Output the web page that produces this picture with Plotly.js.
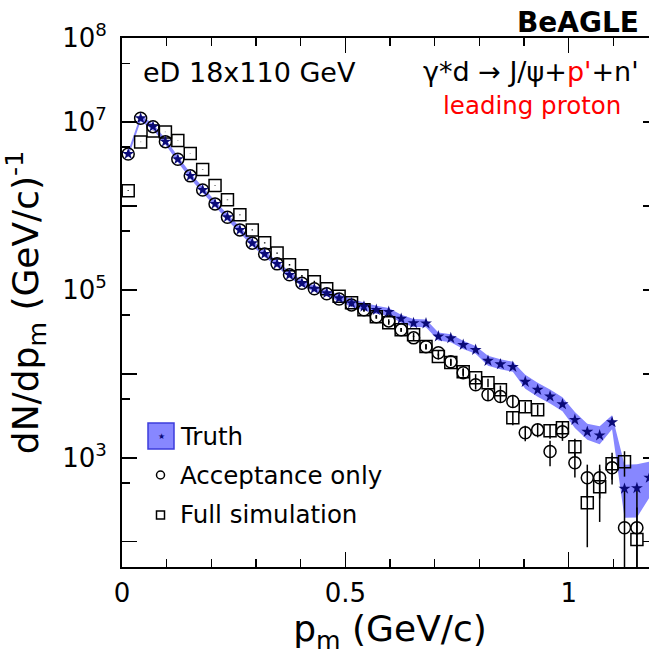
<!DOCTYPE html>
<html>
<head>
<meta charset="utf-8">
<script src="https://cdn.plot.ly/plotly-3.0.1.min.js"></script>
<style>
html,body{margin:0;padding:0;overflow:hidden;background:#ffffff;}
#chart{width:660px;height:658px;}
</style>
</head>
<body>
<div id="chart"></div>
<script>
// ---- data ----
const pm = [0.0139,0.0417,0.0694,0.0972,0.1250,0.1528,0.1806,0.2083,0.2361,0.2639,
            0.2917,0.3194,0.3472,0.3750,0.4028,0.4306,0.4583,0.4861,0.5139,0.5417,
            0.5694,0.5972,0.6250,0.6528,0.6806,0.7083,0.7361,0.7639,0.7917,0.8194,
            0.8472,0.8750,0.9028,0.9306,0.9583,0.9861,1.0139,1.0417,1.0694,1.0972,
            1.1250,1.1528,1.1806];

const truth = [4.16e6,1.107e7,8.79e6,5.83e6,3.60e6,2.28e6,1.55e6,1.057e6,7.34e5,5.18e5,
               3.60e5,2.68e5,2.04e5,1.51e5,1.20e5,1.035e5,9.14e4,7.96e4,6.95e4,6.33e4,
               5.78e4,5.47e4,4.52e4,4.02e4,3.99e4,2.79e4,2.66e4,2.21e4,1.93e4,1.43e4,
               1.30e4,1.21e4,8.03e3,6.45e3,5.37e3,4.34e3,2.83e3,2.04e3,1.85e3,2.65e3,
               428,435,578];
const truthErrUp = [3.6e5,9.5e5,7.6e5,5.0e5,3.1e5,2.0e5,1.3e5,9.1e4,6.3e4,4.5e4,
                    3.1e4,2.3e4,1.8e4,1.3e4,1.0e4,8.9e3,7.9e3,6.8e3,8.1e3,7.3e3,
                    6.7e3,6.3e3,5.2e3,4.7e3,4.6e3,3.2e3,3.1e3,2.6e3,2.2e3,2.1e3,
                    1.9e3,1.8e3,1.7e3,1.36e3,1.13e3,920,690,500,520,560,
                    400,400,320];
const truthErrDown = [3.3e5,8.7e5,6.9e5,4.6e5,2.8e5,1.8e5,1.2e5,8.4e4,5.8e4,4.1e4,
                      2.8e4,2.1e4,1.6e4,1.2e4,9.5e3,8.2e3,7.2e3,6.3e3,7.2e3,6.6e3,
                      6.0e3,5.7e3,4.7e3,4.2e3,4.1e3,2.9e3,2.8e3,2.3e3,2.0e3,1.8e3,
                      1.7e3,1.5e3,1.4e3,1.12e3,930,760,560,400,405,460,
                      235,240,244];

const acceptance = [4.16e6,1.107e7,8.79e6,5.83e6,3.60e6,2.28e6,1.55e6,1.057e6,7.34e5,5.18e5,
                    3.60e5,2.68e5,2.04e5,1.51e5,1.20e5,1.03e5,9.0e4,7.8e4,6.62e4,5.78e4,
                    4.77e4,4.27e4,3.34e4,2.68e4,2.10e4,1.78e4,1.39e4,1.03e4,7.40e3,5.62e3,
                    5.37e3,4.68e3,1.99e3,2.15e3,1.19e3,2.04e3,871,578,578,760,
                    147,147,null];
const acceptanceErr = [2.5e4,4e4,3.5e4,2.8e4,2.2e4,1.7e4,1.4e4,1.1e4,9e3,7.5e3,
                       6e3,5.2e3,4.5e3,3.9e3,3.5e3,3.2e3,3e3,2.8e3,2.6e3,2.4e3,
                       2.2e3,2.1e3,1.8e3,1.6e3,1.5e3,1.4e3,1.2e3,1.1e3,900,800,
                       800,750,420,400,400,450,290,250,250,280,
                       270,270,null];

const fullSim = [1.52e6,5.78e6,7.81e6,7.60e6,6.03e6,4.22e6,2.72e6,1.75e6,1.18e6,7.82e5,
                 5.18e5,3.63e5,2.74e5,1.99e5,1.47e5,1.25e5,1.03e5,8.37e4,7.00e4,5.78e4,
                 4.77e4,4.05e4,3.34e4,2.91e4,2.11e4,1.61e4,1.36e4,1.06e4,8.96e3,7.81e3,
                 6.45e3,2.99e3,4.05e3,3.73e3,2.10e3,2.28e3,1.35e3,291,452,849,
                 896,106,null];
const fullSimErr = [1.2e4,2.4e4,2.8e4,2.8e4,2.4e4,2e4,1.6e4,1.3e4,1.05e4,8.5e3,
                    7e3,5.8e3,5e3,4.3e3,3.7e3,3.4e3,3.1e3,2.8e3,2.6e3,2.4e3,
                    2.2e3,2e3,1.8e3,1.7e3,1.45e3,1.3e3,1.2e3,1.05e3,950,900,
                    800,550,600,580,420,430,330,205,280,300,
                    300,150,null];

const xTickVals = [0, 0.5, 1];
const xTickText = ['0', '0.5', '1'];
const xMinorVals = [0.1,0.2,0.3,0.4,0.6,0.7,0.8,0.9,1.1];
const yTickVals = [1e3,1e5,1e7,1e8];
const yTickText = ['10<sup>3</sup>', '10<sup>5</sup>', '10<sup>7</sup>', '10<sup>8</sup>'];
const yUnlabeledMajor = [1e2,1e4,1e6];
const yMinorVals = [5e2,5e3,5e4,5e5,5e6,5e7];

const legendLabels = ['Truth', 'Acceptance only', 'Full simulation'];

// ---- layout helpers (pixel -> paper) ----
const PL = 122, PR = 658, PT = 38, PB = 567;
const PX = p => (p - PL) / (PR - PL);
const PY = p => (PB - p) / (PB - PT);

const bandLo = truth.map((v, i) => v - truthErrDown[i]);
const bandHi = truth.map((v, i) => v + truthErrUp[i]);

const FONT = 'DejaVu Sans, Liberation Sans, Arial, sans-serif';
const BAND = 'rgb(135,135,255)';
const YRANGE = [Math.log10(50), 8];

const traces = [
  {x: pm, y: bandLo, mode: 'lines', line: {width: 0, color: BAND}, hoverinfo: 'skip', showlegend: false},
  {x: pm, y: bandHi, mode: 'lines', line: {width: 0, color: BAND}, fill: 'tonexty', fillcolor: BAND, hoverinfo: 'skip', showlegend: false},
  {x: pm, y: fullSim, mode: 'markers', name: legendLabels[2],
   marker: {symbol: 'square-open', size: 12, color: 'black', line: {width: 1.5, color: 'black'}},
   error_y: {type: 'data', array: fullSimErr, visible: true, color: 'black', thickness: 1.5, width: 0}},
  {x: pm, y: acceptance, mode: 'markers', name: legendLabels[1],
   marker: {symbol: 'circle-open', size: 12, color: 'black', line: {width: 1.5, color: 'black'}},
   error_y: {type: 'data', array: acceptanceErr, visible: true, color: 'black', thickness: 1.5, width: 0}},
  {x: pm, y: truth, mode: 'markers', name: legendLabels[0],
   marker: {symbol: 'star', size: 9, color: '#0a0a78', line: {width: 0}}},
  // invisible helper trace so the secondary (tick-only) y axis is drawn
  {x: [pm[0]], y: [truth[0]], yaxis: 'y2', mode: 'markers', marker: {opacity: 0}, hoverinfo: 'skip', showlegend: false}
];

const tickFont = {family: FONT, size: 26, color: 'black'};

const layout = {
  width: 660, height: 658,
  margin: {l: PL, r: 660 - PR, t: PT, b: 658 - PB},
  paper_bgcolor: 'white', plot_bgcolor: 'white',
  showlegend: false,
  font: {family: FONT, color: 'black'},
  xaxis: {
    range: [0, 1.2], tickmode: 'array', tickvals: xTickVals, ticktext: xTickText,
    ticks: 'inside', ticklen: 15, tickwidth: 1.5, tickcolor: 'black',
    showline: true, linewidth: 2, linecolor: 'black', mirror: 'ticks',
    showgrid: false, zeroline: false, tickfont: tickFont, ticklabelstandoff: 2,
    minor: {tickmode: 'array', tickvals: xMinorVals, ticks: 'inside', ticklen: 8, tickwidth: 1.5, tickcolor: 'black', showgrid: false},
    title: {text: 'p<sub>m</sub> (GeV/c)', font: {family: FONT, size: 36, color: 'black'}, standoff: 8}
  },
  yaxis: {
    type: 'log', range: YRANGE, tickmode: 'array', tickvals: yTickVals, ticktext: yTickText,
    ticks: 'inside', ticklen: 15, tickwidth: 1.5, tickcolor: 'black',
    showline: true, linewidth: 2, linecolor: 'black', mirror: 'ticks',
    showgrid: false, zeroline: false, tickfont: tickFont, ticklabelstandoff: 8,
    minor: {tickmode: 'array', tickvals: yMinorVals, ticks: 'inside', ticklen: 8, tickwidth: 1.5, tickcolor: 'black', showgrid: false},
    title: {text: 'dN/dp<sub>m</sub> (GeV/c)<sup>-1</sup>', font: {family: FONT, size: 36, color: 'black'}, standoff: 14}
  },
  yaxis2: {
    type: 'log', range: YRANGE, overlaying: 'y', side: 'left', tickmode: 'array', tickvals: yUnlabeledMajor,
    showticklabels: false, ticks: 'inside', ticklen: 15, tickwidth: 1.5, tickcolor: 'black',
    showline: false, mirror: 'ticks', showgrid: false, zeroline: false
  },
  shapes: [
    {type: 'rect', xref: 'paper', yref: 'paper', x0: PX(148), x1: PX(174), y0: PY(449), y1: PY(423),
     fillcolor: BAND, line: {color: 'rgb(60,60,220)', width: 1.5}},
    {type: 'circle', xref: 'paper', yref: 'paper', x0: PX(156.5), x1: PX(164.5), y0: PY(479), y1: PY(471),
     line: {color: 'black', width: 1.5}},
    {type: 'rect', xref: 'paper', yref: 'paper', x0: PX(156.5), x1: PX(164.5), y0: PY(519), y1: PY(511),
     line: {color: 'black', width: 1.5}}
  ],
  annotations: [
    {xref: 'paper', yref: 'paper', x: PX(161), y: PY(436), text: '★', showarrow: false,
     font: {family: FONT, size: 8, color: '#0a0a78'}, xanchor: 'center', yanchor: 'middle'},
    {xref: 'paper', yref: 'paper', x: PX(178), y: PY(436), text: legendLabels[0], showarrow: false,
     font: {family: FONT, size: 24.5, color: 'black'}, xanchor: 'left', yanchor: 'middle'},
    {xref: 'paper', yref: 'paper', x: PX(178), y: PY(475), text: legendLabels[1], showarrow: false,
     font: {family: FONT, size: 24.5, color: 'black'}, xanchor: 'left', yanchor: 'middle'},
    {xref: 'paper', yref: 'paper', x: PX(178), y: PY(514), text: legendLabels[2], showarrow: false,
     font: {family: FONT, size: 24.5, color: 'black'}, xanchor: 'left', yanchor: 'middle'},
    {xref: 'paper', yref: 'paper', x: PX(141), y: PY(73), text: 'eD 18x110 GeV', showarrow: false,
     font: {family: FONT, size: 27, color: 'black'}, xanchor: 'left', yanchor: 'middle'},
    {xref: 'paper', yref: 'paper', x: PX(641), y: PY(72), text: "γ*d → J/ψ+<span style='color:#ff0000'>p'</span>+n'", showarrow: false,
     font: {family: FONT, size: 27, color: 'black'}, xanchor: 'right', yanchor: 'middle'},
    {xref: 'paper', yref: 'paper', x: PX(532), y: PY(105), text: 'leading proton', showarrow: false,
     font: {family: FONT, size: 24.5, color: '#ff0000'}, xanchor: 'center', yanchor: 'middle'},
    {xref: 'paper', yref: 'paper', x: PX(641), y: PY(23), text: '<b>BeAGLE</b>', showarrow: false,
     font: {family: FONT, size: 28, color: 'black'}, xanchor: 'right', yanchor: 'middle'}
  ]
};

Plotly.newPlot('chart', traces, layout, {staticPlot: true, displayModeBar: false});
</script>
</body>
</html>
